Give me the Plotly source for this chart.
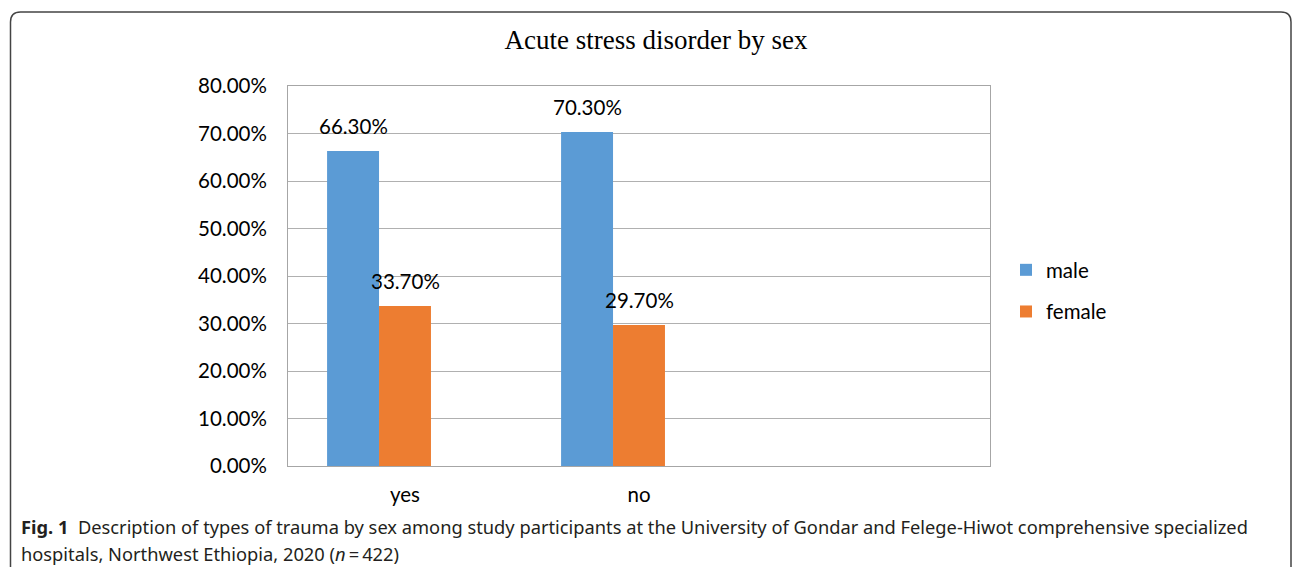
import plotly.graph_objects as go

categories = ["yes", "no"]
male = [0.663, 0.703]
female = [0.337, 0.297]
male_labels = ["66.30%", "70.30%"]
female_labels = ["33.70%", "29.70%"]
y_ticks = [0, 0.1, 0.2, 0.3, 0.4, 0.5, 0.6, 0.7, 0.8]

W, H = 1292, 567
L, R, T, B = 288, 990, 86, 466

def px_x(p):
    return (p - L) / (R - L)

def px_y(p):
    return (B - p) / (B - T)

xs = list(range(len(categories)))
bw = 0.222
off_m, off_f = -0.333, -0.111
FS = 20.5

fig = go.Figure()
fig.add_trace(go.Bar(x=xs, y=male, name="male", width=bw, offset=off_m,
                     marker=dict(color="#5B9BD5", line=dict(width=0)),
                     legendgroup="m"))
fig.add_trace(go.Bar(x=xs, y=female, name="female", width=bw, offset=off_f,
                     marker=dict(color="#ED7D31", line=dict(width=0)),
                     legendgroup="f"))

for i in xs:
    fig.add_annotation(x=i + off_m + bw / 2, y=male[i], text=male_labels[i],
                       showarrow=False, yanchor="bottom", yshift=11,
                       font=dict(family="Lato", size=FS, color="#000000"))
    fig.add_annotation(x=i + off_f + bw / 2, y=female[i], text=female_labels[i],
                       showarrow=False, yanchor="bottom", yshift=11,
                       font=dict(family="Lato", size=FS, color="#000000"))

# caption
fig.add_annotation(xref="paper", yref="paper", x=px_x(19), y=px_y(526),
                   xanchor="left", yanchor="middle", showarrow=False, align="left",
                   text="<b>Fig. 1</b>  Description of types of trauma by sex among study participants at the University of Gondar and Felege-Hiwot comprehensive specialized",
                   font=dict(family="Noto Sans", size=18.3, color="#231f20"))
fig.add_annotation(xref="paper", yref="paper", x=px_x(19), y=px_y(553),
                   xanchor="left", yanchor="middle", showarrow=False, align="left",
                   text="hospitals, Northwest Ethiopia, 2020 (<i>n</i>\u2009=\u2009422)",
                   font=dict(family="Noto Sans", size=18.3, color="#231f20"))

# rounded border
x0, x1 = px_x(10.5), px_x(1291)
yt, yb = px_y(12), px_y(600)
rx = 10 / (R - L)
ry = 10 / (B - T)
path = (f"M {x0},{yb} L {x0},{yt - ry} Q {x0},{yt} {x0 + rx},{yt} "
        f"L {x1 - rx},{yt} Q {x1},{yt} {x1},{yt - ry} L {x1},{yb}")
fig.add_shape(type="path", xref="paper", yref="paper", path=path,
              line=dict(color="#444444", width=1.5), layer="above")

fig.update_layout(
    width=W, height=H,
    margin=dict(l=L, r=W - R, t=T, b=H - B, autoexpand=False),
    paper_bgcolor="white", plot_bgcolor="white",
    barmode="overlay",
    title=dict(text="Acute stress disorder by sex", xref="container",
               x=656 / W, xanchor="center",
               yref="container", y=1 - 40 / H, yanchor="middle",
               font=dict(family="Liberation Serif", size=27, color="#000000")),
    legend=dict(x=px_x(1006), y=px_y(291), xanchor="left", yanchor="middle",
                font=dict(family="Lato", size=FS, color="#000000"),
                tracegroupgap=12, bgcolor="rgba(0,0,0,0)"),
    xaxis=dict(range=[-0.5, 2.5], tickvals=xs, ticktext=categories,
               showgrid=False, zeroline=False, showline=True, mirror=True,
               linecolor="#a6a6a6", linewidth=1, ticks="",
               ticklabelstandoff=10,
               tickfont=dict(family="Lato", size=FS, color="#000000")),
    yaxis=dict(range=[0, 0.8], tickvals=y_ticks, tickformat=".2%",
               showgrid=True, gridcolor="#b0b0b0", gridwidth=1,
               zeroline=False, showline=True, mirror=True,
               linecolor="#a6a6a6", linewidth=1, ticks="",
               ticklabelstandoff=16,
               tickfont=dict(family="Lato", size=FS, color="#000000")),
)

fig.write_html("out.html", config={"displayModeBar": False},
               post_script="document.body.style.margin='0';")
